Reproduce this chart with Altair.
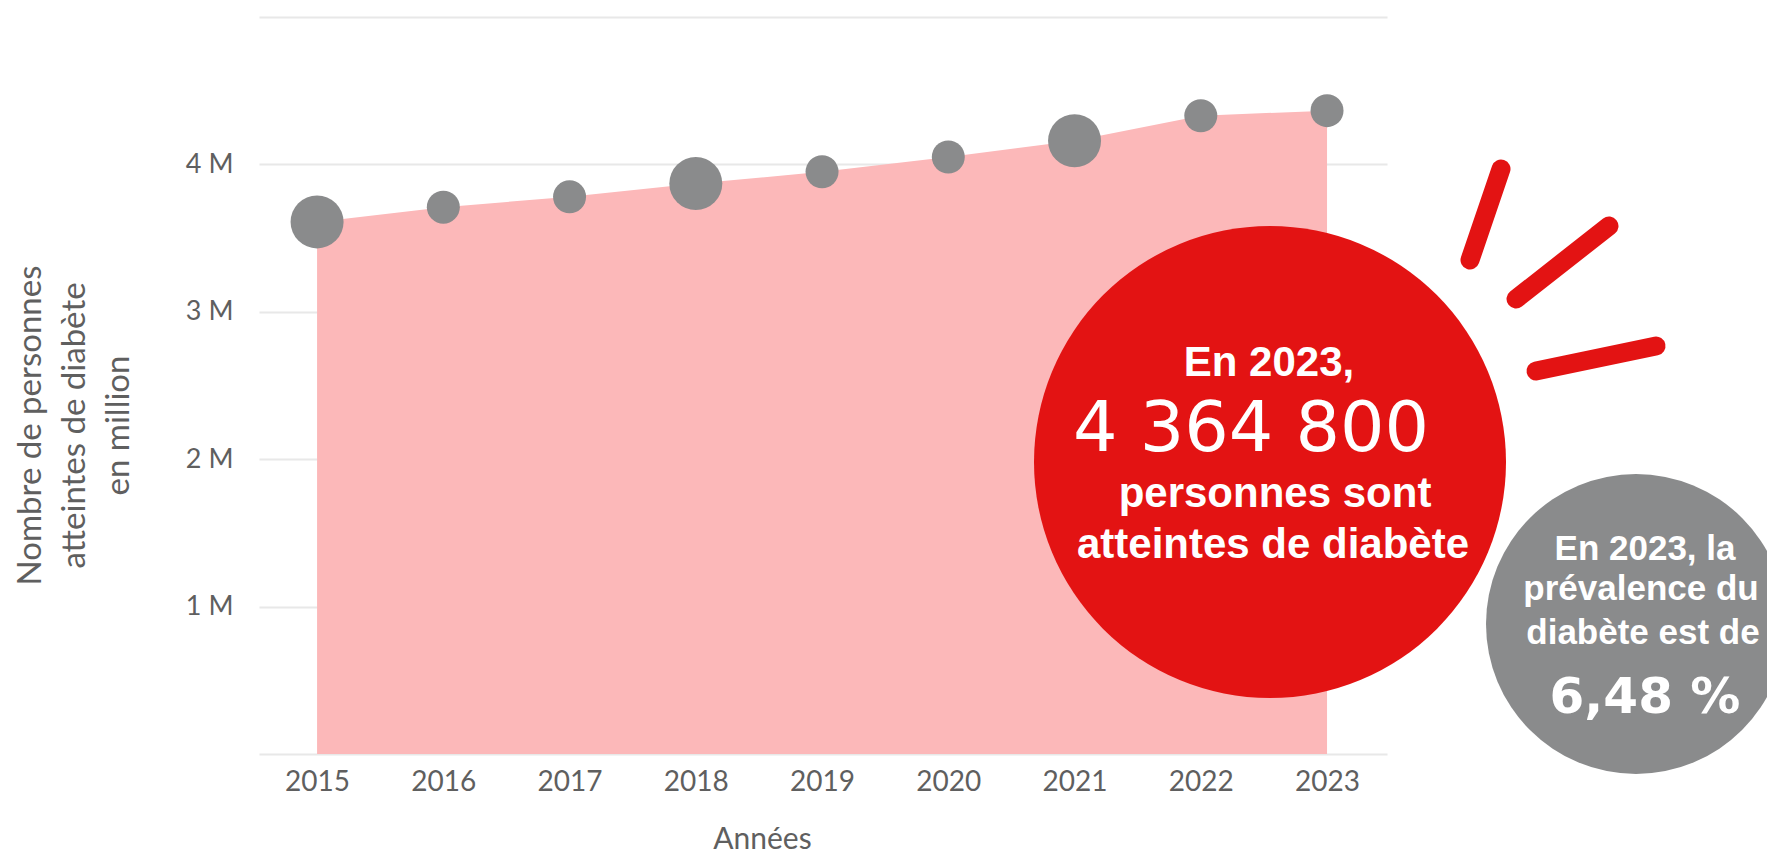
import altair as alt
import pandas as pd

# ---- données ----
annees = [2015, 2016, 2017, 2018, 2019, 2020, 2021, 2022, 2023]
personnes = [3610000, 3710000, 3780000, 3870000, 3950000, 4050000, 4160000, 4330000, 4364800]
graduations_y = [0, 1000000, 2000000, 3000000, 4000000, 5000000]

titre_y = ["Nombre de personnes", "atteintes de diabète", "en million"]
titre_x = "Années"
bulle_rouge = ["En 2023,", "4 364 800", "personnes sont", "atteintes de diabète"]
bulle_grise = ["En 2023, la", "prévalence du", "diabète est de", "6,48 %"]

df = pd.DataFrame({"annee": annees, "personnes": personnes})
un = pd.DataFrame({"k": [0]})

W, H = 1128, 737
AX_FONT = "Lato"
TXT_FONT = "Liberation Sans"
ROUGE = "#e31313"
ROSE = "#fcb8b9"
GRIS = "#8a8b8c"
AX_COL = "#5f5f5f"

x = alt.X(
    "annee:Q",
    scale=alt.Scale(domain=[2014.54, 2023.475], nice=False, zero=False),
    axis=alt.Axis(
        values=annees, format="d", grid=False, domain=False, ticks=False,
        labelFont=AX_FONT, labelFontSize=28, labelColor=AX_COL, labelPadding=14,
        title=titre_x, titleFont=AX_FONT, titleFontSize=30, titleFontWeight="normal",
        titleColor=AX_COL, titleX=503, titleY=94, titleAlign="center",
        titleBaseline="alphabetic",
    ),
)
y = alt.Y(
    "personnes:Q",
    scale=alt.Scale(domain=[0, 5000000], nice=False),
    axis=alt.Axis(
        values=graduations_y,
        labelExpr="datum.value == 0 || datum.value == 5000000 ? '' : format(datum.value / 1000000, 'd') + ' M'",
        grid=True, gridColor="#e8e8e8", gridWidth=2, domain=False, ticks=False,
        labelFont=AX_FONT, labelFontSize=27, labelColor=AX_COL, labelPadding=26,
        title=titre_y, titleFont=AX_FONT, titleFontSize=33, titleFontWeight="normal",
        titleColor=AX_COL, titleAngle=270, titleAlign="center", titleBaseline="middle",
        titleLineHeight=44, titleX=-229, titleY=408,
    ),
)

aire = alt.Chart(df).mark_area(color=ROSE, opacity=1, interpolate="linear").encode(x=x, y=y)
points = alt.Chart(df).mark_circle(color=GRIS, opacity=1).encode(
    x=x, y=y,
    size=alt.condition("datum.annee % 3 == 2", alt.value(2809), alt.value(1089)),
)

cercle_rouge = alt.Chart(un).mark_circle(color=ROUGE, opacity=1).encode(
    x=alt.value(1011), y=alt.value(445), size=alt.value(222784)
)
cercle_gris = alt.Chart(un).mark_circle(color=GRIS, opacity=1).encode(
    x=alt.value(1377), y=alt.value(607), size=alt.value(90000)
)


def rayon(x1, y1, x2, y2):
    return alt.Chart(un).mark_rule(color=ROUGE, strokeWidth=19, strokeCap="round").encode(
        x=alt.value(x1), y=alt.value(y1), x2=alt.value(x2), y2=alt.value(y2)
    )


rayons = [rayon(1211, 243, 1242, 152), rayon(1257, 282, 1350, 209), rayon(1277, 354, 1397, 329)]


def texte(s, px, py, size, font=TXT_FONT, weight="bold"):
    return alt.Chart(un).mark_text(
        text=s, font=font, fontSize=size, fontWeight=weight, color="white",
        align="center", baseline="alphabetic",
    ).encode(x=alt.value(px), y=alt.value(py))


textes = [
    texte(bulle_rouge[0], 1010, 359, 42),
    texte(bulle_rouge[1], 992, 434, 70, font="DejaVu Sans", weight="normal"),
    texte(bulle_rouge[2], 1016, 490, 42),
    texte(bulle_rouge[3], 1014, 541, 42),
    texte(bulle_grise[0], 1386, 543, 35),
    texte(bulle_grise[1], 1382, 583, 35),
    texte(bulle_grise[2], 1384, 627, 35),
    texte(bulle_grise[3], 1386, 696, 50, font="DejaVu Sans"),
]

chart = alt.layer(aire, points, cercle_rouge, *rayons, cercle_gris, *textes).properties(
    width=W, height=H,
    autosize=alt.AutoSizeParams(type="none"),
    padding={"left": 251, "top": 9, "right": 380, "bottom": 99},
    background="white",
).configure_view(stroke=None)

chart.save("out.html", embed_options={"renderer": "svg", "actions": False})
